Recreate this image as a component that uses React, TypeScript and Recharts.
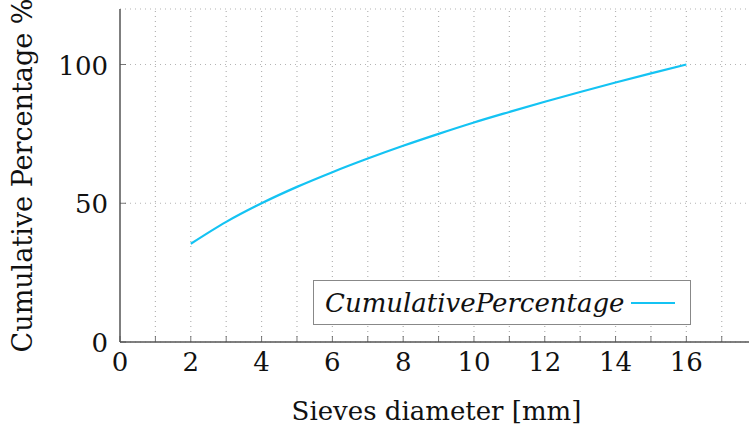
import React from 'react';
import { LineChart, Line, XAxis, YAxis, CartesianGrid, ReferenceLine } from 'recharts';

const diameters = [2, 3, 4, 5, 6, 7, 8, 9, 10, 11, 12, 13, 14, 15, 16];
const cumulative = [35.4, 43.3, 50, 55.9, 61.2, 66.1, 70.7, 75, 79.1, 82.9, 86.6, 90.1, 93.5, 96.8, 100];
const xMinor = [0, 1, 2, 3, 4, 5, 6, 7, 8, 9, 10, 11, 12, 13, 14, 15, 16, 17];
const yLabels = [0, 50, 100];
const seriesName = 'CumulativePercentage';

const data = diameters.map((d, i) => ({ d, p: cumulative[i] }));

const FONT = 'DejaVu Serif';
const AXIS = '#555';
const GRID = '#b4b4b4';
const LINE = '#14c3f3';

const BottomTick = (props: any) => {
  const { x, y, payload } = props;
  const v = payload.value;
  return (
    <g>
      <line x1={x} y1={y} x2={x} y2={y - 6} stroke={AXIS} strokeWidth={0.8} />
      {v % 2 === 0 && (
        <text x={x} y={y + 29} textAnchor="middle" fontFamily={FONT} fontSize={26} fill="#111">
          {v}
        </text>
      )}
    </g>
  );
};

const TopTick = (props: any) => {
  const { x, y } = props;
  return <line x1={x} y1={y} x2={x} y2={y + 6} stroke={AXIS} strokeWidth={0.8} />;
};

const LeftTick = (props: any) => {
  const { x, y, payload } = props;
  return (
    <g>
      <line x1={x} y1={y} x2={x + 6} y2={y} stroke={AXIS} strokeWidth={0.8} />
      <text x={x - 12} y={y + 10} textAnchor="end" fontFamily={FONT} fontSize={26} fill="#111">
        {payload.value}
      </text>
    </g>
  );
};

export default function App() {
  return (
    <div style={{ position: 'absolute', left: 0, top: 0, width: 749, height: 432, background: '#fff' }}>
      <LineChart width={749} height={432} data={data} margin={{ top: 9, right: 0, bottom: 0, left: 0 }}>
        <XAxis
          xAxisId="main"
          dataKey="d"
          type="number"
          domain={[0, 17.77]}
          ticks={xMinor}
          interval={0}
          height={90}
          tickSize={0}
          tickMargin={0}
          tickLine={false}
          tick={<BottomTick />}
          axisLine={{ stroke: AXIS, strokeWidth: 1.5 }}
          allowDataOverflow
          label={(p: any) => {
            const vb = p.viewBox;
            return (
              <text x={vb.x + vb.width / 2 + 2} y={vb.y + 78} textAnchor="middle" fontFamily={FONT} fontSize={26} fill="#111">
                Sieves diameter [mm]
              </text>
            );
          }}
        />
        <XAxis
          xAxisId="top"
          orientation="top"
          dataKey="d"
          type="number"
          domain={[0, 17.77]}
          ticks={xMinor}
          interval={0}
          height={0}
          tickSize={0}
          tickMargin={0}
          tickLine={false}
          tick={<TopTick />}
          axisLine={{ stroke: AXIS, strokeWidth: 1.5 }}
          allowDataOverflow
        />
        <YAxis
          yAxisId="left"
          type="number"
          domain={[0, 120]}
          ticks={yLabels}
          interval={0}
          width={120}
          tickSize={0}
          tickMargin={0}
          tickLine={false}
          tick={<LeftTick />}
          axisLine={{ stroke: AXIS, strokeWidth: 1.5 }}
          label={(p: any) => {
            const vb = p.viewBox;
            const cx = vb.x + 32;
            const cy = vb.y + vb.height / 2;
            return (
              <text x={cx} y={cy} textAnchor="middle" fontFamily={FONT} fontSize={27} fill="#111" transform={`rotate(-90 ${cx} ${cy})`}>
                Cumulative Percentage %
              </text>
            );
          }}
        />
        <CartesianGrid xAxisId="main" yAxisId="left" vertical={false} stroke={GRID} strokeDasharray="1 4" strokeWidth={1.2} />
        {xMinor.slice(1).map((v) => (
          <ReferenceLine key={v} x={v} xAxisId="main" yAxisId="left" stroke={GRID} strokeDasharray="1 4" strokeWidth={1.2} />
        ))}
        <Line
          xAxisId="main"
          yAxisId="left"
          dataKey="p"
          name={seriesName}
          type="monotone"
          stroke={LINE}
          strokeWidth={2.2}
          dot={false}
          isAnimationActive={false}
        />
      </LineChart>
      <div
        style={{
          position: 'absolute',
          left: 313,
          top: 280,
          border: '1px solid #888',
          background: '#fff',
          width: 378,
          height: 45,
          boxSizing: 'border-box',
          display: 'flex',
          alignItems: 'center',
          paddingLeft: 11,
          fontFamily: FONT,
          fontStyle: 'italic',
          fontSize: 26,
          color: '#111',
          whiteSpace: 'nowrap',
        }}
      >
        <span>{seriesName}</span>
        <svg width={44} height={10} style={{ marginLeft: 6 }}>
          <line x1={0} y1={5} x2={44} y2={5} stroke={LINE} strokeWidth={2} />
        </svg>
      </div>
    </div>
  );
}
